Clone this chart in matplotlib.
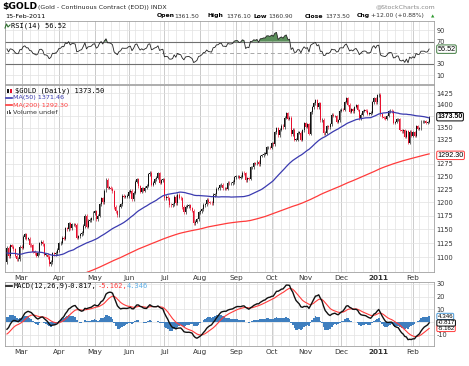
import numpy as np
import pandas as pd
import matplotlib
matplotlib.use("Agg")
import matplotlib.pyplot as plt
from matplotlib.ticker import FixedLocator, FixedFormatter, NullLocator
from matplotlib.lines import Line2D
from matplotlib.patches import Rectangle

# daily closes before the visible range (only used to warm up MA200 / MACD / RSI)
apr09 = [884, 890, 897, 907, 913, 906, 896, 897, 891]
may09 = [884, 903, 902, 908, 916, 913, 913, 931, 926, 932, 930, 922, 934, 929, 945, 958, 953, 952, 956, 962, 979]
jun09 = [980, 984, 969, 980, 960, 950, 954, 952, 950, 943, 932, 935, 930, 932, 921, 926, 930, 936, 943, 939, 941, 927]
jul09 = [935, 930, 927, 923, 932, 915, 910, 913, 915, 930, 937, 945, 950, 948, 954, 957, 952, 951, 955, 943, 938, 937, 954]
aug09 = [957, 960, 958, 963, 958, 953, 947, 946, 950, 951, 947, 937, 935, 943, 950, 944, 942, 946, 951, 945, 955]
sep09 = [956, 978, 996, 996, 996, 1006, 1007, 996, 1000, 1006, 1020, 1013, 1019, 1009, 1003, 1015, 1004, 991, 990, 990, 996, 1008]
oct09 = [999, 1004, 1006, 1018, 1040, 1048, 1050, 1058, 1051, 1057, 1063, 1053, 1053, 1059, 1064, 1063, 1059, 1056, 1042, 1031, 1047, 1041]
nov09 = [1056, 1086, 1091, 1096, 1110, 1102, 1113, 1108, 1116, 1118, 1118, 1142, 1140, 1143, 1162, 1163, 1167, 1174, 1188, 1175, 1182]
dec09 = [1195, 1218, 1210, 1163, 1163, 1145, 1128, 1125, 1129, 1114, 1105, 1125, 1138, 1115, 1110, 1092, 1097, 1101, 1106, 1108, 1104, 1096, 1097]
jan10 = [1118, 1120, 1137, 1135, 1142, 1152, 1129, 1128, 1144, 1137, 1131, 1137, 1112, 1107, 1094, 1097, 1099, 1087, 1084, 1083, 1081]
feb10a = [1107, 1112, 1113, 1063, 1050, 1066, 1073, 1069, 1092, 1092, 1092]

# visible range: 16-Feb-2010 .. 15-Feb-2011
feb10 = [1117, 1102, 1121, 1119, 1114, 1103, 1097, 1097, 1118]
mar10 = [1117, 1136, 1141, 1133, 1133, 1122, 1121, 1110, 1107, 1103, 1107, 1125, 1127, 1123, 1105, 1105, 1101, 1088, 1092, 1107, 1106, 1108, 1113]
apr10 = [1125, 1126, 1134, 1133, 1152, 1150, 1161, 1152, 1159, 1159, 1158, 1135, 1137, 1141, 1143, 1156, 1175, 1155, 1166, 1167, 1170, 1180]
may10 = [1183, 1169, 1175, 1196, 1208, 1200, 1222, 1243, 1228, 1228, 1226, 1221, 1191, 1183, 1176, 1192, 1196, 1212, 1211, 1211, 1212]
jun10 = [1220, 1222, 1206, 1218, 1240, 1244, 1231, 1220, 1227, 1222, 1228, 1232, 1254, 1257, 1234, 1238, 1244, 1247, 1256, 1238, 1242, 1244]
jul10 = [1208, 1210, 1208, 1195, 1194, 1196, 1210, 1198, 1214, 1209, 1208, 1191, 1181, 1192, 1193, 1194, 1189, 1184, 1161, 1164, 1168, 1181]
aug10 = [1183, 1187, 1195, 1196, 1205, 1200, 1199, 1198, 1214, 1215, 1226, 1227, 1233, 1234, 1227, 1227, 1226, 1238, 1237, 1237, 1239, 1248]
sep10 = [1250, 1250, 1247, 1249, 1257, 1256, 1242, 1246, 1245, 1268, 1268, 1276, 1275, 1279, 1274, 1291, 1292, 1296, 1296, 1309, 1309, 1308]
oct10 = [1317, 1315, 1340, 1349, 1334, 1346, 1354, 1351, 1371, 1381, 1369, 1371, 1336, 1346, 1325, 1325, 1339, 1339, 1325, 1344, 1359]
nov10 = [1352, 1357, 1337, 1383, 1394, 1403, 1410, 1394, 1403, 1366, 1367, 1338, 1339, 1353, 1351, 1357, 1378, 1375, 1375, 1363, 1366, 1387]
dec10 = [1389, 1388, 1406, 1415, 1400, 1384, 1390, 1385, 1395, 1399, 1388, 1370, 1378, 1386, 1388, 1387, 1380, 1380, 1382, 1405, 1414, 1405, 1421]
jan11 = [1422, 1379, 1373, 1371, 1369, 1375, 1385, 1387, 1385, 1361, 1362, 1368, 1368, 1345, 1342, 1345, 1331, 1342, 1318, 1341, 1333]
feb11 = [1340, 1333, 1353, 1348, 1349, 1364, 1364, 1364, 1360, 1361.5, 1373.5]

first_day = "2010-02-16"
price_ticks = [1100, 1125, 1150, 1175, 1200, 1225, 1250, 1275, 1300, 1325, 1350, 1375, 1400, 1425]
hidden_ticks = [1300, 1375]  # covered by the last-value boxes
rsi_ticks = [10, 30, 50, 70, 90]
macd_ticks = [-10, 0, 10, 20, 30]

header = "(Gold - Continuous Contract (EOD)) INDX"
quote = [("Open", "1361.50"), ("High", "1376.10"), ("Low", "1360.90"), ("Close", "1373.50"), ("Chg", "+12.00 (+0.88%)")]
last_rsi = "56.52"
last_close = "1373.50"
ma50_last = "1371.46"
ma200_last = "1292.30"
macd_last = ["-0.817", "-5.162", "4.346"]

W, H = 469, 366
GRID = "#e2e2e2"
MGRID = "#c4c4c4"
RED = "#e8102e"
BLUE_MA = "#3b3bb0"
RED_MA = "#ff3b3b"
HIST = "#3f7fbf"


def fx(px):
    return px / W


def fy(py):
    return 1 - py / H


def style_panel(ax, dates, xlim):
    ax.set_xlim(*xlim)
    for s in ax.spines.values():
        s.set_color("#a0a0a0")
        s.set_linewidth(0.6)
    ax.yaxis.tick_right()
    ax.tick_params(axis="y", length=0, pad=2, labelsize=4.8, labelcolor="#333333")
    ax.tick_params(axis="x", length=0, pad=2, labelsize=5.2, labelcolor="#333333")
    idx = np.arange(len(dates))
    mondays = idx[dates.weekday == 0]
    for m in mondays:
        ax.axvline(m, color=GRID, lw=0.5, zorder=0)
    month_start = idx[1:][dates.month[1:] != dates.month[:-1]]
    for m in month_start:
        ax.axvline(m, color=MGRID, lw=0.6, zorder=0)
    ax.set_xticks(month_start)
    labels = ["2011" if dates[m].month == 1 else dates[m].strftime("%b") for m in month_start]
    ax.set_xticklabels(labels)
    for t, lab in zip(ax.get_xticklabels(), labels):
        if lab == "2011":
            t.set_fontweight("bold")
    return month_start


def value_box(ax, y, text, edge, color="black", weight="normal", size=5.2):
    ax.text(1.008, y, text, transform=ax.get_yaxis_transform(), ha="left", va="center",
            fontsize=size, color=color, fontweight=weight, family="Liberation Sans",
            zorder=10, clip_on=False,
            bbox=dict(boxstyle="round,pad=0.1,rounding_size=0.2", fc="white", ec=edge, lw=0.7))


def main():
    pre = apr09 + may09 + jun09 + jul09 + aug09 + sep09 + oct09 + nov09 + dec09 + jan10 + feb10a
    vis = feb10 + mar10 + apr10 + may10 + jun10 + jul10 + aug10 + sep10 + oct10 + nov10 + dec10 + jan11 + feb11
    s = pd.Series(pre + vis, dtype=float)

    ma50 = s.rolling(50).mean()
    ma200 = s.rolling(200).mean()
    ema12 = s.ewm(span=12, adjust=False).mean()
    ema26 = s.ewm(span=26, adjust=False).mean()
    macd = ema12 - ema26
    signal = macd.ewm(span=9, adjust=False).mean()
    hist = macd - signal
    delta = s.diff()
    gain = delta.clip(lower=0).ewm(alpha=1 / 14, adjust=False).mean()
    loss = (-delta.clip(upper=0)).ewm(alpha=1 / 14, adjust=False).mean()
    rsi = 100 - 100 / (1 + gain / loss)

    n0 = len(pre)
    n = len(vis)
    x = np.arange(n)
    close = s.values[n0:]
    opn = s.values[n0 - 1:-1]
    dates = pd.bdate_range(first_day, periods=n)
    xlim = (-1.2, n + 2.0)

    fig = plt.figure(figsize=(W / 100, H / 100), dpi=100)
    fig.patch.set_facecolor("white")
    ax_rsi = fig.add_axes([fx(5), fy(84), fx(429), (84 - 21) / H])
    ax = fig.add_axes([fx(5), fy(272), fx(429), (272 - 85) / H])
    ax_m = fig.add_axes([fx(5), fy(346), fx(429), (346 - 282) / H])

    # ---- RSI panel
    style_panel(ax_rsi, dates, xlim)
    ax_rsi.set_xticklabels([])
    r = rsi.values[n0:]
    ax_rsi.set_ylim(-6, 107)
    for lv in (10, 90):
        ax_rsi.axhline(lv, color=GRID, lw=0.5, zorder=0)
    ax_rsi.axhline(70, color="#707070", lw=0.8, zorder=1)
    ax_rsi.axhline(30, color="#707070", lw=0.8, zorder=1)
    ax_rsi.axhline(50, color="#a8a8a8", lw=0.7, ls=(0, (4, 3)), zorder=1)
    ax_rsi.fill_between(x, r, 70, where=r > 70, interpolate=True, color="#5b8f5b", lw=0, zorder=2)
    ax_rsi.fill_between(x, r, 30, where=r < 30, interpolate=True, color="#5b8f5b", lw=0, zorder=2)
    ax_rsi.plot(x, r, color="#222222", lw=0.6, zorder=3)
    ax_rsi.yaxis.set_major_locator(FixedLocator(rsi_ticks))
    ax_rsi.yaxis.set_major_formatter(FixedFormatter(["10", "30", "", "70", "90"]))
    value_box(ax_rsi, float(last_rsi), last_rsi, "#3d7a3d")

    # ---- price panel
    style_panel(ax, dates, xlim)
    ax.set_yscale("log")
    ax.set_ylim(1075, 1444)
    for p in price_ticks:
        ax.axhline(p, color=GRID, lw=0.5, zorder=0)
    ax.yaxis.set_major_locator(FixedLocator(price_ticks))
    ax.yaxis.set_major_formatter(FixedFormatter(["" if p in hidden_ticks else str(p) for p in price_ticks]))
    ax.yaxis.set_minor_locator(NullLocator())

    wick = 3.0
    hi = np.maximum(opn, close) + wick
    lo = np.minimum(opn, close) - wick
    hi[-1], lo[-1] = 1376.1, 1360.9
    prev = s.values[n0 - 1:-1]
    colors = np.where(close < prev, RED, "#111111")
    ax.vlines(x, lo, hi, colors=colors, lw=0.45, zorder=3)
    body_lo = np.minimum(opn, close)
    body_h = np.maximum(np.abs(close - opn), 0.8)
    ax.bar(x, body_h, bottom=body_lo, width=0.6, color=colors, lw=0, zorder=4)
    ax.plot(x, ma50.values[n0:], color=BLUE_MA, lw=0.9, zorder=5)
    ax.plot(x, ma200.values[n0:], color=RED_MA, lw=0.9, zorder=5)
    value_box(ax, float(last_close), last_close, "black", weight="bold", size=5.0)
    value_box(ax, float(ma200_last), ma200_last, RED_MA)

    # ---- MACD panel
    style_panel(ax_m, dates, xlim)
    ax_m.set_ylim(-19, 31.5)
    for lv in macd_ticks:
        ax_m.axhline(lv, color=GRID, lw=0.5, zorder=0)
    ax_m.bar(x, hist.values[n0:], width=1.0, color=HIST, lw=0, zorder=2)
    ax_m.plot(x, signal.values[n0:], color=RED_MA, lw=0.8, zorder=3)
    ax_m.plot(x, macd.values[n0:], color="#111111", lw=1.0, zorder=4)
    ax_m.yaxis.set_major_locator(FixedLocator(macd_ticks))
    ax_m.yaxis.set_major_formatter(FixedFormatter(["-10", "", "10", "20", "30"]))
    value_box(ax_m, float(macd_last[2]), macd_last[2], "#4a9ad8", size=4.4)
    value_box(ax_m, float(macd_last[1]), macd_last[1], RED_MA, size=4.4)
    value_box(ax_m, float(macd_last[0]), macd_last[0], "black", size=4.4)

    # ---- header texts
    fig.text(fx(2), fy(7), "$GOLD", fontsize=6.6, fontweight="bold", va="center", ha="left")
    fig.text(fx(38), fy(7), header, fontsize=4.5, va="center", ha="left", color="#222222")
    fig.text(fx(435), fy(7), "@StockCharts.com", fontsize=4.5, va="center", ha="right", color="#888888")
    fig.text(fx(5), fy(16), "15-Feb-2011", fontsize=4.6, va="center", ha="left")
    qx = [157, 207, 253, 305, 357]
    vx = [174, 226, 268, 325, 371]
    for (lab, val), a, b in zip(quote, qx, vx):
        fig.text(fx(a), fy(16), lab, fontsize=4.4, fontweight="bold", va="center", ha="left")
        fig.text(fx(b), fy(16), val, fontsize=4.3, va="center", ha="left", color="#333333")
    fig.text(fx(431), fy(16.5), "\u25b2", fontsize=3.2, va="center", ha="left", color="#2e9a2e")

    # panel legends
    fig.text(fx(11), fy(26), "RSI(14) " + last_rsi, fontsize=5, family="DejaVu Sans Mono",
             va="center", ha="left")
    fig.add_artist(Line2D([fx(5), fx(6.5), fx(8), fx(10)], [fy(28), fy(24), fy(27), fy(25)],
                          color="#2f6f2f", lw=0.8))
    fig.text(fx(15), fy(90.5), "$GOLD (Daily) " + last_close, fontsize=5, family="DejaVu Sans Mono",
             va="center", ha="left")
    fig.add_artist(Rectangle((fx(7), fy(92.5)), fx(2), 4 / H, color="#111111", lw=0))
    fig.add_artist(Rectangle((fx(10), fy(92.5)), fx(2), 4 / H, color=RED, lw=0))
    fig.add_artist(Line2D([fx(6), fx(12)], [fy(97.5), fy(97.5)], color=BLUE_MA, lw=1.2))
    fig.text(fx(13), fy(97.5), "MA(50) " + ma50_last, fontsize=4.6, va="center", ha="left", color=BLUE_MA)
    fig.add_artist(Line2D([fx(6), fx(12)], [fy(105), fy(105)], color=RED_MA, lw=1.2))
    fig.text(fx(13), fy(105), "MA(200) " + ma200_last, fontsize=4.6, va="center", ha="left", color=RED_MA)
    for i, hgt in enumerate([3, 4, 2.5]):
        fig.add_artist(Rectangle((fx(7 + 1.6 * i), fy(114)), fx(1.1), hgt / H, color="#555555", lw=0))
    fig.text(fx(13), fy(112.3), "Volume undef", fontsize=4.6, va="center", ha="left", color="#333333")

    fig.add_artist(Line2D([fx(6), fx(12)], [fy(286), fy(286)], color="#111111", lw=1.2))
    fig.text(fx(14), fy(286), "MACD(12,26,9)", fontsize=5, family="DejaVu Sans Mono", va="center", ha="left")
    fig.text(fx(67), fy(286), macd_last[0] + ",", fontsize=5, family="DejaVu Sans Mono", va="center", ha="left")
    fig.text(fx(98), fy(286), macd_last[1] + ",", fontsize=5, family="DejaVu Sans Mono", va="center",
             ha="left", color=RED_MA)
    fig.text(fx(127), fy(286), macd_last[2], fontsize=5, family="DejaVu Sans Mono", va="center",
             ha="left", color="#5aaee8")

    fig.savefig("out.png", dpi=100, facecolor="white")


if __name__ == "__main__":
    main()
